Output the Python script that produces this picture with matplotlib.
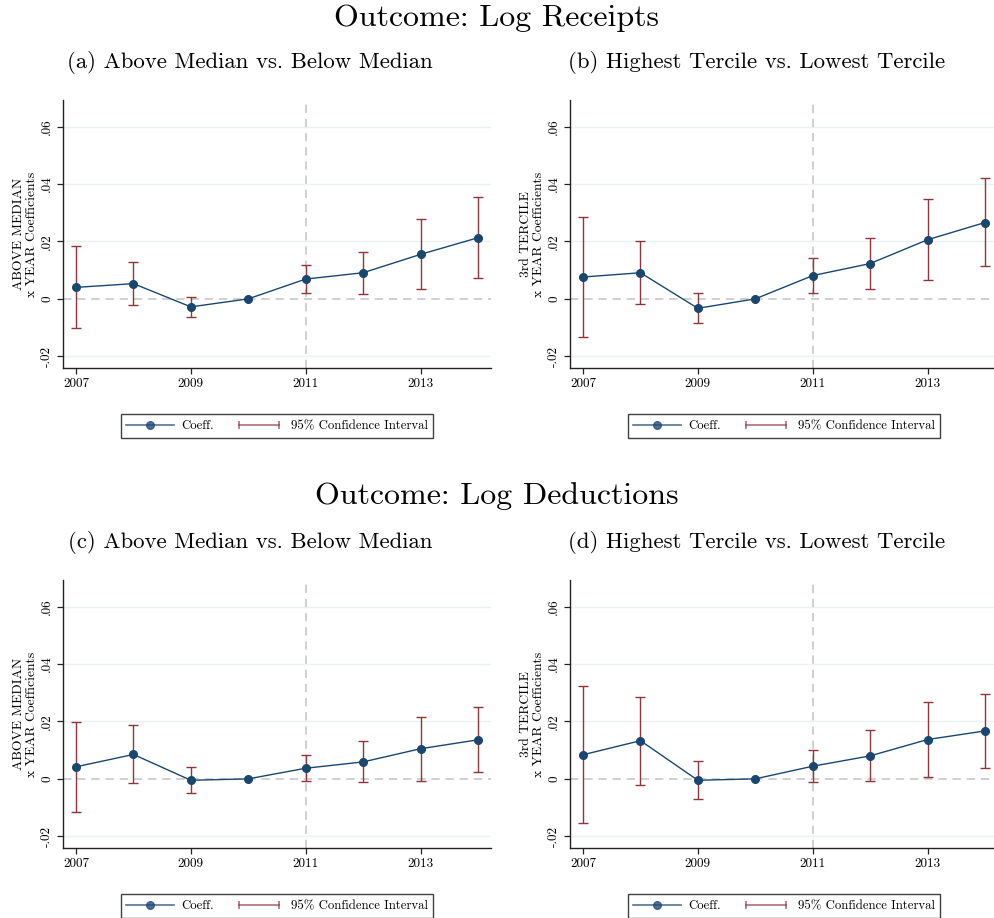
import numpy as np
import matplotlib
matplotlib.use('Agg')
import matplotlib.pyplot as plt
from matplotlib.lines import Line2D
from matplotlib.legend_handler import HandlerLine2D

plt.rcParams['font.family'] = ['cmr10', 'DejaVu Serif']
plt.rcParams['mathtext.fontset'] = 'cm'
plt.rcParams['axes.unicode_minus'] = False

years = [2007, 2008, 2009, 2010, 2011, 2012, 2013, 2014]

# coefficients and 95% CI bounds (2010 is the omitted base year)
coef_a = [0.0040, 0.0053, -0.0028, 0.0, 0.0069, 0.0091, 0.0155, 0.0213]
lo_a = [-0.0102, -0.0021, -0.0064, np.nan, 0.0021, 0.0017, 0.0034, 0.0072]
hi_a = [0.0183, 0.0127, 0.0008, np.nan, 0.0117, 0.0165, 0.0278, 0.0354]

coef_b = [0.0076, 0.0091, -0.0033, 0.0, 0.0081, 0.0123, 0.0206, 0.0266]
lo_b = [-0.0134, -0.0019, -0.0083, np.nan, 0.0022, 0.0035, 0.0066, 0.0113]
hi_b = [0.0285, 0.0202, 0.0019, np.nan, 0.0141, 0.0211, 0.0347, 0.0421]

coef_c = [0.0042, 0.0085, -0.0005, 0.0, 0.0037, 0.0059, 0.0105, 0.0136]
lo_c = [-0.0114, -0.0016, -0.0051, np.nan, -0.0006, -0.0012, -0.0006, 0.0023]
hi_c = [0.0199, 0.0186, 0.0043, np.nan, 0.0083, 0.0131, 0.0215, 0.0251]

coef_d = [0.0084, 0.0133, -0.0005, 0.0, 0.0044, 0.0080, 0.0137, 0.0167]
lo_d = [-0.0155, -0.0020, -0.0070, np.nan, -0.0012, -0.0009, 0.0006, 0.0038]
hi_d = [0.0322, 0.0286, 0.0061, np.nan, 0.0101, 0.0169, 0.0269, 0.0297]

ylabels = ['ABOVE MEDIAN\nx YEAR Coefficients', '3rd TERCILE\nx YEAR Coefficients',
           'ABOVE MEDIAN\nx YEAR Coefficients', '3rd TERCILE\nx YEAR Coefficients']
subtitles = ['(a) Above Median vs. Below Median', '(b) Highest Tercile vs. Lowest Tercile',
             '(c) Above Median vs. Below Median', '(d) Highest Tercile vs. Lowest Tercile']
yticks = [-0.02, 0, 0.02, 0.04, 0.06]
yticklabels = ['-.02', '0', '.02', '.04', '.06']
xticks = [2007, 2009, 2011, 2013]

NAVY = '#1a476f'
MAROON = '#90353b'

W, H = 994, 918
fig = plt.figure(figsize=(W / 100, H / 100), dpi=100)

def px_axes(left, top, right, bottom):
    return fig.add_axes([left / W, (H - bottom) / H, (right - left) / W, (bottom - top) / H])

panels = [
    (coef_a, lo_a, hi_a, (63, 100, 491, 368), 250),
    (coef_b, lo_b, hi_b, (570, 100, 998, 368), 757),
    (coef_c, lo_c, hi_c, (63, 580, 491, 848), 250),
    (coef_d, lo_d, hi_d, (570, 580, 998, 848), 757),
]

for i, (coef, lo, hi, box, subx) in enumerate(panels):
    ax = px_axes(*box)
    c = np.array(coef)
    l = np.array(lo)
    h = np.array(hi)
    yrs = np.array(years)
    m = ~np.isnan(l)

    for yv in [0.02, 0.04, 0.06, -0.02]:
        ax.axhline(yv, color='#eaf2f3', lw=1.0, zorder=0)
    ax.axhline(0, color='#c8c8c8', lw=1.2, ls=(0, (5, 3.5)), zorder=1)
    ax.axvline(2011, color='#c8c8c8', lw=1.2, ls=(0, (5, 3.5)), zorder=1)

    ax.errorbar(yrs[m], c[m], yerr=[c[m] - l[m], h[m] - c[m]], fmt='none',
                ecolor=MAROON, elinewidth=1.0, capsize=3.5, capthick=1.0, zorder=2)
    ax.plot(yrs, c, color=NAVY, lw=1.0, marker='o', ms=5.5, zorder=3)

    ax.set_xlim(2006.773, 2014.227)
    ax.set_ylim(-0.0241, 0.0693)
    ax.set_xticks(xticks)
    ax.set_xticklabels([str(x) for x in xticks], fontsize=9.5)
    ax.set_yticks(yticks)
    ax.set_yticklabels(yticklabels, fontsize=9.5, rotation=90, va='center')
    ax.tick_params(length=4, width=0.9, color='#222222', pad=3)
    for s in ['top', 'right']:
        ax.spines[s].set_visible(False)
    for s in ['left', 'bottom']:
        ax.spines[s].set_color('#222222')
        ax.spines[s].set_linewidth(1.0)
    ax.set_ylabel(ylabels[i], fontsize=9.8, linespacing=1.12, labelpad=2)

    coeff_h = Line2D([], [], color=NAVY, lw=1.2, marker='o', ms=5.5, alpha=0.75)
    ci_h = Line2D([], [], color=MAROON, lw=1.2, marker='|', ms=6, mew=1.2, alpha=0.7)
    leg = ax.legend([coeff_h, ci_h], ['Coeff.', '95% Confidence Interval'],
                    loc='center', bbox_to_anchor=(0.5, -0.2164), ncol=2, fontsize=9.2,
                    numpoints=1, handler_map={ci_h: HandlerLine2D(numpoints=2)},
                    handlelength=3.7, handletextpad=0.6, columnspacing=1.7,
                    frameon=True, fancybox=False, borderpad=0.45, borderaxespad=0)
    leg.get_frame().set_edgecolor('#111111')
    leg.get_frame().set_linewidth(1.0)

    fig.text(subx / W, 1 - (62 if i < 2 else 542) / H, subtitles[i],
             ha='center', va='center', fontsize=16.4)

fig.text(0.5, 1 - 18 / H, 'Outcome: Log Receipts', ha='center', va='center', fontsize=23)
fig.text(0.5, 1 - 496 / H, 'Outcome: Log Deductions', ha='center', va='center', fontsize=23)

fig.savefig('out.png', dpi=100)
